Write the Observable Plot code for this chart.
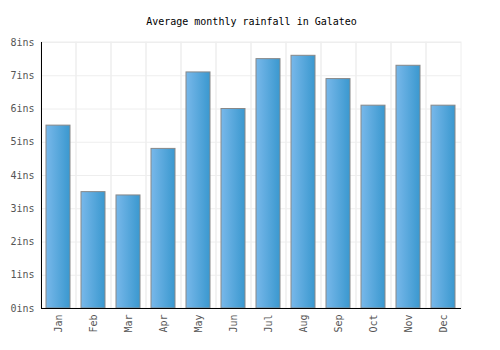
<!DOCTYPE html>
<html><head><meta charset="utf-8">
<script src="https://cdn.jsdelivr.net/npm/d3@7"></script>
<script src="https://cdn.jsdelivr.net/npm/@observablehq/plot@0.6"></script>
<style>body{margin:0;background:#fff}</style>
</head><body><div id="chart"></div>
<script>
const title = "Average monthly rainfall in Galateo";
const months = ["Jan","Feb","Mar","Apr","May","Jun","Jul","Aug","Sep","Oct","Nov","Dec"];
const rainfall = [5.5,3.5,3.4,4.8,7.1,6.0,7.5,7.6,6.9,6.1,7.3,6.1];
const yTicks = [0,1,2,3,4,5,6,7,8];
const unit = "ins";

const data = months.map((m,i)=>({month:m, value:rainfall[i]}));
const font = "DejaVu Sans Mono, monospace";
const W = 500, ML = 41, MR = 39;
const halfStep = (W - ML - MR) / months.length / 2;

const chart = Plot.plot({
  width: W, height: 350,
  marginLeft: ML, marginRight: MR, marginTop: 42, marginBottom: 42,
  style: {fontFamily: font, fontSize: "10px", background: "#fff", color: "#555"},
  x: {domain: months, padding: 0, label: null, tickSize: 0, tickPadding: 6, tickRotate: -90},
  y: {domain: [0,8], ticks: yTicks, tickFormat: d => d + unit, label: null, tickSize: 0, tickPadding: 7},
  marks: [
    Plot.ruleY(yTicks, {stroke: "#eee", strokeWidth: 1}),
    Plot.barY(months, {x: d=>d, y1: 0, y2: 8, fill: "none", stroke: "#eee", strokeWidth: 1}),
    Plot.barY(data, {x: "month", y: "value", fill: "url(#barGrad)", stroke: "#888", strokeWidth: 1, insetLeft: 5, insetRight: 6}),
    Plot.ruleX([months[0]], {x: d=>d, y1: 0, y2: 8, stroke: "#000", dx: -halfStep}),
    Plot.ruleY([0], {stroke: "#000"}),
    Plot.text([title], {text: d=>d, frameAnchor: "top", dy: -25, fill: "#000", fontSize: 10, fontFamily: font})
  ]
});
const svg = d3.select(chart);
const grad = svg.insert("defs", ":first-child").append("linearGradient")
  .attr("id","barGrad").attr("x1","0").attr("x2","1").attr("y1","0").attr("y2","0");
grad.append("stop").attr("offset","0%").attr("stop-color","#78b8ea");
grad.append("stop").attr("offset","100%").attr("stop-color","#3a98cf");
document.getElementById("chart").appendChild(chart);
</script>
</body></html>
